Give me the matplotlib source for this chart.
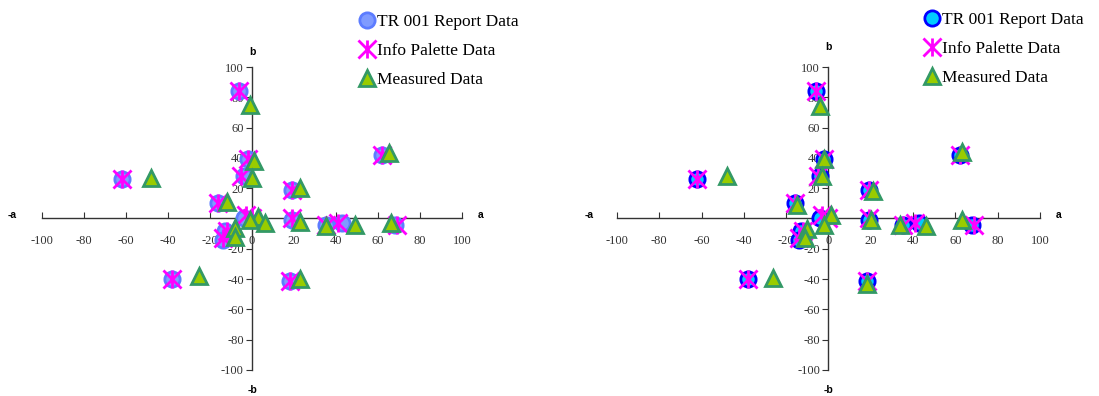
import matplotlib.pyplot as plt
from matplotlib.path import Path

plt.rcParams['axes.unicode_minus'] = False

# TR 001 report values (a, b) - same in both panels
report_a = [-6, -62, -38, 18, 62, 19, -2, -4, -16, -13, -14, -4, 19, 35, 43, 68]
report_b = [84, 26, -40, -41, 42, 19, 39, 28, 10, -8, -14, 0, -1, -4, -3, -4]

# Info palette values
info_a = [-6, -62, -38, 18, 62, 19, -2, -5, -16, -12, -14, -3, 0, 19, 35, 41, 69]
info_b = [84, 26, -40, -41, 42, 19, 39, 28, 10, -8, -13, 2, 0, 0, -4, -3, -4]

# measured values, left panel
meas1_a = [-1, -48, -25, 23, 65, 23, 1, 0, -12, -8, -8, 3, 6, -1, 23, 35, 49, 66]
meas1_b = [75, 27, -38, -40, 43, 20, 38, 27, 11, -6, -12, 1, -3, -1, -2, -5, -4, -3]

# measured values, right panel
meas2_a = [-4, -48, -26, 18, 63, 21, -2, -3, -15, -10, -11, 1, -2, 20, 34, 46, 63]
meas2_b = [74, 28, -39, -43, 44, 18, 39, 28, 9, -7, -13, 2, -4, -1, -4, -5, -1]

ticks = [-100, -80, -60, -40, -20, 0, 20, 40, 60, 80, 100]

# Excel style star marker: an x with a vertical bar
star = Path([(-1, -1), (1, 1), (-1, 1), (1, -1), (0, -1), (0, 1)],
            [Path.MOVETO, Path.LINETO, Path.MOVETO, Path.LINETO, Path.MOVETO, Path.LINETO])

serif = 'Liberation Serif'

fig = plt.figure(figsize=(10.99, 3.96), dpi=100)


def panel(rect, meas_a, meas_b, circ_face, circ_edge, lab_x, leg_pos):
    ax = fig.add_axes(rect)
    ax.plot(report_a, report_b, 'o', ms=11, mfc=circ_face, mec=circ_edge, mew=2,
            label='TR 001 Report Data', zorder=3)
    ax.plot(info_a, info_b, ls='none', marker=star, ms=13, mfc='none', mec='#FF00FF',
            mew=2, label='Info Palette Data', zorder=4)
    ax.plot(meas_a, meas_b, '^', ms=11.5, mfc='#99CC00', mec='#339966', mew=2,
            label='Measured Data', zorder=5)
    ax.set_xlim(-100, 100)
    ax.set_ylim(-100, 100)
    ax.spines['left'].set_position(('data', 0))
    ax.spines['bottom'].set_position(('data', 0))
    ax.spines['top'].set_visible(False)
    ax.spines['right'].set_visible(False)
    for s in ['left', 'bottom']:
        ax.spines[s].set_color('#333333')
        ax.spines[s].set_linewidth(1)
    ax.set_xticks(ticks)
    ax.set_yticks(ticks)
    ax.tick_params(axis='x', direction='in', length=4, pad=12, labelsize=9, color='#333333')
    ax.tick_params(axis='y', direction='out', length=4, pad=2, labelsize=9, color='#333333')
    for t in ax.get_xticklabels() + ax.get_yticklabels():
        t.set_fontfamily(serif)
        t.set_color('#333333')
    ax.patch.set_alpha(0)
    bold = dict(fontsize=7.5, fontweight='bold', family='Liberation Sans', ha='center',
                va='center', clip_on=False)
    ax.text(-lab_x[0], 2, '-a', **bold)
    ax.text(lab_x[1], 2, 'a', **bold)
    ax.text(0, lab_x[2], 'b', **bold)
    ax.text(0, -113, '-b', **bold)
    ax.legend(loc='upper left', bbox_to_anchor=leg_pos, bbox_transform=fig.transFigure,
              frameon=False, borderpad=0, handlelength=1, handletextpad=0.1,
              labelspacing=0.75, prop={'family': serif, 'size': 12.5})
    return ax


panel([0.0382, 0.0657, 0.3822, 0.7651], meas1_a, meas1_b, '#7F9BFF', '#5C7CFF',
      (114, 109, 110), (0.318, 0.988))
panel([0.5614, 0.0657, 0.3849, 0.7651], meas2_a, meas2_b, '#00CCFF', '#0000FF',
      (113, 109, 113), (0.832, 0.993))

fig.savefig('out.png', dpi=100)
